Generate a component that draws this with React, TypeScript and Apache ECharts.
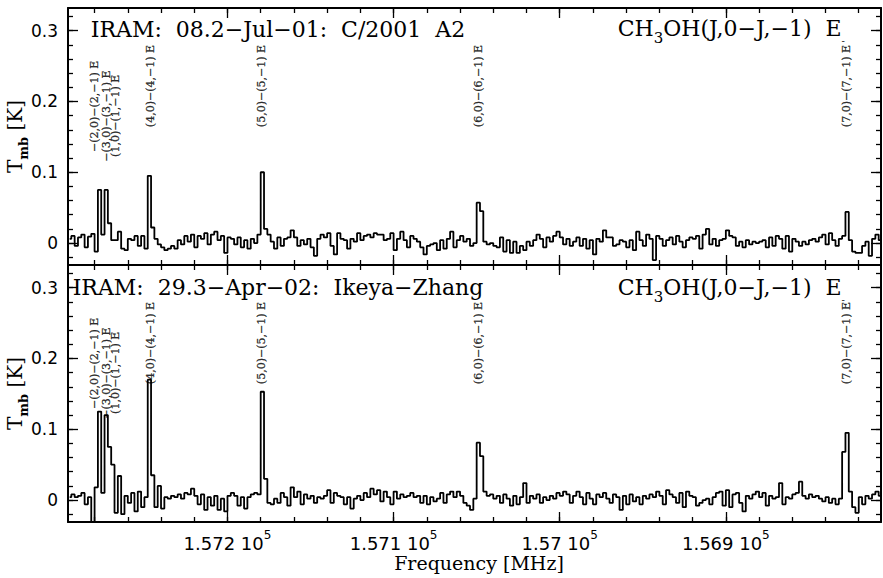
import React, { useEffect, useRef } from "react";
import * as echarts from "echarts";

// ---- spectral axis (MHz) ----
const FIRST_CHANNEL_MHZ = 157295; // centre of channel 0
const CHANNEL_WIDTH_MHZ = 2; // frequency decreases by this per channel
const X_MIN = 156806.6;
const X_MAX = 157296;
const Y_MIN = -0.031;
const Y_MAX = 0.332;

// ---- Tmb [K] per channel ----
const tmbJul2001: number[] = [
  0.006, 0.010, -0.004, 0.008, 0.012, -0.006, 0.009, 0.013, -0.012, 0.075,
  0.012, 0.075, 0.028, 0.004, 0.004, 0.016, -0.008, -0.010, 0.006, 0.004,
  0.010, -0.004, 0.010, -0.008, 0.095, 0.022, 0.006, -0.002, -0.006, -0.010,
  -0.008, -0.004, -0.008, 0.004, -0.002, 0.010, 0.002, 0.012, -0.006, 0.010,
  0.006, 0.014, -0.002, 0.012, 0.016, 0.004, 0.010, -0.014, 0.008, 0.006,
  -0.002, 0.008, -0.006, 0.004, -0.008, 0.006, 0.000, 0.012, 0.100, 0.020,
  0.012, 0.002, -0.008, 0.008, -0.004, 0.006, 0.008, 0.018, 0.008, -0.004,
  0.004, -0.002, 0.006, -0.006, -0.018, 0.006, 0.012, 0.008, 0.014, -0.004,
  -0.016, 0.014, 0.006, 0.004, -0.008, 0.006, 0.002, 0.014, 0.004, 0.010,
  0.012, 0.008, 0.014, 0.012, 0.012, 0.004, 0.006, 0.014, -0.010, 0.006,
  0.016, 0.004, -0.006, 0.010, 0.006, 0.002, -0.006, -0.016, -0.004, -0.002,
  0.000, -0.010, 0.004, -0.008, 0.006, 0.016, -0.006, 0.004, 0.010, 0.002,
  0.006, -0.004, 0.000, 0.057, 0.045, 0.002, -0.002, 0.000, -0.004, -0.006,
  0.008, -0.012, 0.004, -0.014, 0.002, -0.014, -0.004, -0.010, 0.002, -0.004,
  0.004, 0.012, 0.006, -0.006, 0.008, 0.002, 0.010, 0.016, 0.008, -0.002,
  0.006, -0.004, 0.002, 0.008, -0.004, 0.006, -0.008, 0.004, -0.016, 0.006,
  0.002, 0.018, 0.008, 0.008, -0.004, -0.002, 0.004, 0.002, -0.006, 0.004,
  -0.010, 0.016, 0.004, -0.004, 0.012, 0.006, -0.024, 0.010, 0.006, -0.004,
  0.004, 0.008, -0.002, 0.010, 0.002, -0.006, 0.004, 0.008, 0.006, 0.010,
  -0.008, 0.012, 0.020, -0.002, 0.006, -0.004, 0.004, 0.006, 0.018, 0.010,
  0.008, -0.004, 0.002, -0.006, 0.004, -0.002, 0.002, 0.000, 0.002, 0.004,
  -0.006, 0.008, -0.004, 0.010, 0.006, -0.008, 0.010, -0.012, 0.006, 0.002,
  -0.004, 0.002, -0.002, 0.004, 0.006, 0.002, 0.008, 0.012, -0.002, 0.014,
  0.004, -0.004, 0.006, 0.010, 0.044, 0.004, -0.012, -0.014, -0.014, -0.004,
  0.002, -0.018, 0.006, 0.012, 0.004,
];

const tmbApr2002: number[] = [
  0.004, 0.008, 0.004, 0.006, 0.010, -0.006, 0.004, -0.034, 0.018, 0.125,
  0.010, 0.120, 0.075, 0.050, -0.018, 0.034, -0.020, 0.006, -0.004, 0.010,
  -0.016, 0.012, -0.010, 0.004, 0.170, 0.035, -0.010, 0.020, -0.012, 0.004,
  0.002, 0.006, 0.004, 0.008, 0.002, 0.010, 0.008, 0.016, 0.006, -0.006,
  0.008, -0.014, 0.004, -0.008, 0.006, -0.014, 0.002, -0.016, 0.006, 0.010,
  0.006, -0.008, 0.004, -0.012, 0.004, 0.008, 0.010, 0.008, 0.153, 0.030,
  -0.004, -0.006, 0.002, -0.004, 0.010, 0.004, -0.008, 0.018, 0.004, 0.012,
  -0.006, 0.008, 0.002, 0.006, -0.004, 0.004, 0.002, 0.006, 0.014, -0.004,
  0.010, 0.006, 0.004, -0.006, 0.004, -0.012, 0.002, 0.006, 0.000, 0.010,
  0.004, 0.016, 0.008, 0.014, -0.002, 0.012, 0.004, -0.006, 0.012, 0.002,
  0.008, 0.004, 0.006, 0.010, 0.004, 0.006, -0.004, 0.006, -0.006, 0.004,
  -0.002, 0.002, 0.010, -0.004, 0.008, 0.012, 0.004, 0.012, 0.006, -0.004,
  -0.008, -0.014, 0.002, 0.081, 0.062, 0.012, 0.006, 0.008, 0.002, 0.006,
  -0.004, 0.008, 0.002, -0.008, 0.006, -0.006, 0.004, 0.024, -0.004, 0.006,
  0.002, 0.008, -0.004, 0.004, 0.000, 0.006, 0.002, 0.010, 0.006, 0.012,
  0.008, -0.004, 0.006, 0.012, 0.004, -0.006, 0.010, 0.002, -0.006, 0.008,
  0.004, 0.010, 0.002, -0.004, 0.008, 0.004, -0.014, 0.006, -0.006, 0.008,
  -0.002, 0.004, -0.006, 0.006, 0.002, 0.008, 0.004, 0.012, 0.006, -0.006,
  0.014, 0.008, 0.004, -0.004, 0.010, -0.010, 0.012, 0.006, 0.004, -0.008,
  -0.004, 0.000, 0.002, -0.006, 0.004, 0.010, 0.012, -0.008, 0.014, -0.010,
  0.008, 0.010, -0.004, -0.016, 0.006, 0.002, 0.008, 0.012, 0.004, 0.010,
  -0.008, 0.006, 0.002, 0.004, 0.024, -0.006, 0.004, 0.002, 0.008, 0.010,
  0.026, 0.006, 0.002, 0.008, 0.004, 0.006, 0.002, -0.002, 0.004, -0.004,
  0.002, -0.006, 0.002, 0.068, 0.095, 0.012, -0.010, -0.018, 0.004, -0.006,
  0.006, 0.002, 0.008, 0.012, 0.006,
];

// ---- texts ----
const panelTitles = [
  "IRAM:  08.2−Jul−01:  C/2001  A2",
  "IRAM:  29.3−Apr−02:  Ikeya−Zhang",
];
const moleculeTitle = "{m|CH}{s|3}{m|OH(J,0−J,−1)  E}{e|-}";
const lineLabels = [
  "−(2,0)−(2,−1) E",
  "−(3,0)−(3,−1) E",
  "(1,0)−(1,−1) E",
  "(4,0)−(4,−1) E",
  "(5,0)−(5,−1) E",
  "(6,0)−(6,−1) E",
  "(7,0)−(7,−1) E",
];
const lineFreqs = [157276.0, 157272.3, 157270.8, 157246.1, 157179.0, 157048.6, 156828.5];

// ---- ticks ----
const xMajorTicks = [156900, 157000, 157100, 157200];
const xMinorStep = 20;
const yMajorTicks = [0, 0.1, 0.2, 0.3];
const yMinorStep = 0.02;

// ---- layout / style ----
const GRID_LEFT = 68;
const GRID_WIDTH = 813;
const panelRects = [
  { top: 8, height: 257 },
  { top: 265, height: 257 },
];
const labelBaseK = [0.128, 0.114, 0.121, 0.163, 0.163, 0.163, 0.163];
const labelDxPx = [-6, 0, 6, 0, 0, 0, 2];
const BLACK = "#000";
const SERIF = "DejaVu Serif";
const SANS = "DejaVu Sans";

const xMinorTicks: number[] = [];
for (let f = 156820; f <= 157280; f += xMinorStep) xMinorTicks.push(f);
const yMinorTicks: number[] = [];
for (let k = -1; k <= 16; k++) yMinorTicks.push(Math.round(k * yMinorStep * 1000) / 1000);

function xAxisDef(gridIndex: number, position: string, ticks: number[], len: number, withLabels: boolean, showLine: boolean): any {
  const ax: any = {
    type: "value",
    gridIndex,
    position,
    min: X_MIN,
    max: X_MAX,
    inverse: true,
    axisLine: { show: showLine, onZero: false, lineStyle: { color: BLACK, width: 2 } },
    axisTick: { show: true, inside: true, length: len, customValues: ticks, lineStyle: { color: BLACK, width: 1.3 } },
    axisLabel: { show: false },
    splitLine: { show: false },
  };
  if (withLabels) {
    ax.axisLabel = {
      show: true,
      customValues: xMajorTicks,
      margin: 7,
      formatter: (v: number) => `{n|${v / 1e5} 10}{p|5}`,
      rich: {
        n: { fontFamily: SANS, fontSize: 18, color: BLACK, lineHeight: 28 },
        p: { fontFamily: SANS, fontSize: 12, color: BLACK, verticalAlign: "top", lineHeight: 12 },
      },
    };
    ax.name = "Frequency [MHz]";
    ax.nameLocation = "middle";
    ax.nameGap = 31;
    ax.nameMoveOverlap = false;
    ax.nameTextStyle = { fontFamily: SERIF, fontSize: 19, color: BLACK, padding: [0, 0, 0, 9] };
  }
  return ax;
}

function yAxisDef(gridIndex: number, position: string, ticks: number[], len: number, withLabels: boolean, showLine: boolean): any {
  const ax: any = {
    type: "value",
    gridIndex,
    position,
    min: Y_MIN,
    max: Y_MAX,
    axisLine: { show: showLine, onZero: false, lineStyle: { color: BLACK, width: 2 } },
    axisTick: { show: true, inside: true, length: len, customValues: ticks, lineStyle: { color: BLACK, width: 1.3 } },
    axisLabel: { show: false },
    splitLine: { show: false },
  };
  if (withLabels) {
    ax.axisLabel = {
      show: true,
      customValues: yMajorTicks,
      margin: 10,
      fontFamily: SANS,
      fontSize: 17,
      color: BLACK,
      formatter: (v: number) => String(v),
    };
    ax.name = "{t|T}{s|mb}{t| [K]}";
    ax.nameLocation = "middle";
    ax.nameGap = 38;
    ax.nameMoveOverlap = false;
    ax.nameTextStyle = {
      rich: {
        t: { fontFamily: SERIF, fontSize: 20, color: BLACK, lineHeight: 30 },
        s: { fontFamily: SERIF, fontSize: 13, fontWeight: "bold", color: BLACK, verticalAlign: "bottom", lineHeight: 13 },
      },
    };
  }
  return ax;
}

function buildOption(): any {
  const grids: any[] = [];
  const xAxes: any[] = [];
  const yAxes: any[] = [];
  const series: any[] = [];
  const graphics: any[] = [];
  const spectra = [tmbJul2001, tmbApr2002];

  panelRects.forEach((r, p) => {
    const g0 = 2 * p;
    const g1 = 2 * p + 1;
    for (let k = 0; k < 2; k++) {
      grids.push({ left: GRID_LEFT, width: GRID_WIDTH, top: r.top, height: r.height, outerBoundsMode: "none", containLabel: false });
    }
    xAxes.push(xAxisDef(g0, "bottom", xMinorTicks, 5, false, true));
    xAxes.push(xAxisDef(g0, "top", xMinorTicks, 5, false, true));
    xAxes.push(xAxisDef(g1, "bottom", xMajorTicks, 10, p === 1, false));
    xAxes.push(xAxisDef(g1, "top", xMajorTicks, 10, false, false));
    yAxes.push(yAxisDef(g0, "left", yMinorTicks, 5, false, true));
    yAxes.push(yAxisDef(g0, "right", yMinorTicks, 5, false, true));
    yAxes.push(yAxisDef(g1, "left", yMajorTicks, 10, true, false));
    yAxes.push(yAxisDef(g1, "right", yMajorTicks, 10, false, false));

    const spec = spectra[p];
    series.push({
      type: "line",
      xAxisIndex: 4 * p,
      yAxisIndex: 4 * p,
      data: spec.map((v, i) => [FIRST_CHANNEL_MHZ - CHANNEL_WIDTH_MHZ * i, v]),
      step: "middle",
      symbol: "none",
      showSymbol: false,
      silent: true,
      clip: true,
      lineStyle: { color: BLACK, width: 1.8 },
    });
    series.push({
      type: "scatter",
      xAxisIndex: 4 * p,
      yAxisIndex: 4 * p,
      symbolSize: 1,
      silent: true,
      itemStyle: { color: "rgba(0,0,0,0)" },
      label: {
        show: true,
        rotate: 90,
        align: "left",
        verticalAlign: "middle",
        fontFamily: SERIF,
        fontSize: 11,
        color: BLACK,
        textBorderColor: "#000",
        textBorderWidth: 0.3,
        formatter: (prm: any) => prm.name,
      },
      data: lineLabels.map((name, k) => ({
        name,
        value: [lineFreqs[k], labelBaseK[k]],
        label: { position: [labelDxPx[k], 0] },
      })),
    });

    const baseY = r.top;
    graphics.push({
      type: "text",
      x: 278,
      y: baseY + (p === 0 ? 21.5 : 22.5),
      silent: true,
      style: {
        text: panelTitles[p],
        fontFamily: SERIF,
        fontSize: 22,
        fill: BLACK,
        align: "center",
        verticalAlign: "middle",
        textAlign: "center",
        textVerticalAlign: "middle",
      },
    });
    graphics.push({
      type: "text",
      x: 845,
      y: baseY + (p === 0 ? 20.5 : 22.5),
      silent: true,
      style: {
        text: moleculeTitle,
        fill: BLACK,
        align: "right",
        verticalAlign: "middle",
        textAlign: "right",
        textVerticalAlign: "middle",
        rich: {
          m: { fontFamily: SERIF, fontSize: 22, lineHeight: 34, fill: BLACK, color: BLACK },
          s: { fontFamily: SERIF, fontSize: 15, lineHeight: 14, verticalAlign: "bottom", fill: BLACK, color: BLACK },
          e: { fontFamily: SERIF, fontSize: 10, lineHeight: 22, verticalAlign: "bottom", fill: BLACK, color: BLACK },
        },
      },
    });
  });

  return {
    animation: false,
    backgroundColor: "#fff",
    grid: grids,
    xAxis: xAxes,
    yAxis: yAxes,
    series,
    graphic: graphics,
  };
}

export default function App() {
  const ref = useRef<HTMLDivElement>(null);
  useEffect(() => {
    if (!ref.current) return;
    const chart = echarts.init(ref.current, null, { renderer: "svg" });
    chart.setOption(buildOption());
    return () => chart.dispose();
  }, []);
  return (
    <div
      ref={ref}
      style={{ position: "fixed", left: 0, top: 0, width: 883, height: 578, background: "#fff" }}
    />
  );
}
